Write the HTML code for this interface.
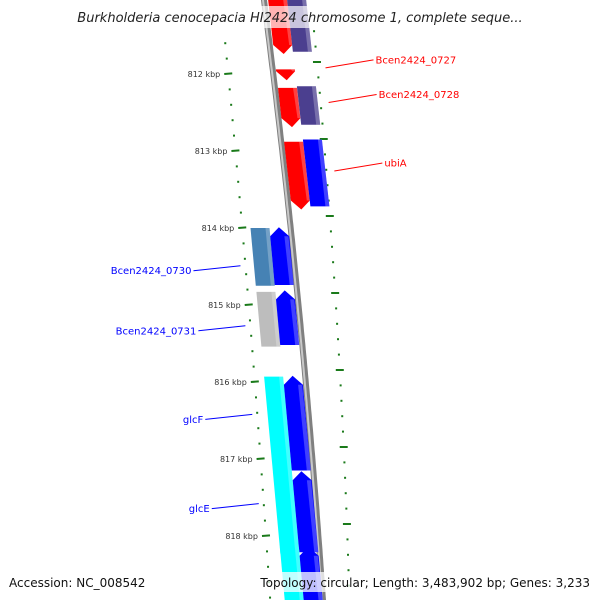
<!DOCTYPE html>
<html><head><meta charset="utf-8"><style>
html,body{margin:0;padding:0;background:#fff;}
svg{display:block;font-family:"DejaVu Sans","Liberation Sans",sans-serif;}
</style></head><body>
<svg id="map" width="600" height="600" viewBox="0 0 600 600" xmlns="http://www.w3.org/2000/svg">
<defs>
<linearGradient id="bb" x1="0" x2="1" y1="0" y2="0"><stop offset="0" stop-color="#777"/><stop offset="0.4" stop-color="#bbb"/><stop offset="1" stop-color="#666"/></linearGradient>
</defs>
<g id="ticks"></g>
<g id="backbone"></g>
<g id="genes"></g>
<g id="labels"></g>
<rect x="62" y="6" width="476" height="22" fill="#fff" fill-opacity="0.7"/>
<text x="300" y="22" text-anchor="middle" font-size="13" font-style="italic" fill="#222">Burkholderia cenocepacia HI2424 chromosome 1, complete seque...</text>
<rect x="0" y="572" width="600" height="20" fill="#fff" fill-opacity="0.75"/>
<text x="9" y="587" font-size="12" fill="#111">Accession: NC_008542</text>
<text x="590" y="587" text-anchor="end" font-size="12" fill="#111">Topology: circular; Length: 3,483,902 bp; Genes: 3,233</text>
</svg>
<script>
// kbp tick labels
const tickKbp = [812,813,814,815,816,817,818];
// genes: [name, start kbp, end kbp, track, column, color, direction]
const geneNames = ["g_top_r","g_top_p","g_small","Bcen2424_0727b","Bcen2424_0728","ubiA_r","ubiA","Bcen2424_0730","b0730","Bcen2424_0731","b0731","glcF","bglcF","glcE","bglcE","next","bnext"];
const geneStart = [811.0,811.0,811.94,812.18,812.16,812.88,812.85,814.0,813.99,814.83,814.81,815.93,815.92,817.17,817.16,818.15,818.14];
const geneEnd   = [811.74,811.71,812.08,812.69,812.66,813.76,813.72,814.75,814.74,815.54,815.52,817.18,817.15,818.23,818.21,819.0,819.0];
const geneTrack = [0,0,0,0,0,0,0,1,1,1,1,1,1,1,1,1,1];
const geneCol   = [0,1,0,0,1,0,1,0,1,0,1,0,1,0,1,0,1];
const geneColor = ["#ff0000","#4b3f8f","#ff0000","#ff0000","#4b3f8f","#ff0000","#0000ff","#4682b4","#0000ff","#bdbdbd","#0000ff","#00ffff","#0000ff","#00ffff","#0000ff","#00ffff","#0000ff"];
const geneDir   = [-1,0,-1,-1,0,-1,0,0,1,0,1,0,1,0,1,0,1];
// labels
const labelText = ["Bcen2424_0727","Bcen2424_0728","ubiA","Bcen2424_0730","Bcen2424_0731","glcF","glcE"];
const labelKbp  = [811.92,812.37,813.26,814.49,815.27,816.42,817.58];
const labelSide = [1,1,1,-1,-1,-1,-1];
const labelColor= ["#ff0000","#ff0000","#ff0000","#0000ff","#0000ff","#0000ff","#0000ff"];

const NS="http://www.w3.org/2000/svg";
function yOf(k){return 74+(k-812)*77;}
function backX(y){return 264+0.1286*y-5.05e-5*y*y;}
function leftTickX(y){return 221+0.1*y-0.00003*y*y+ (y>300?0:0);}
function rightTickX(y){return 311+0.1*y-0.00006*y*y;}
function trackX(t,c,y){
  const base = t===0 ? 277.6+0.113*y : 262+0.092*(y-250);
  return base + c*19;
}
function mk(tag,attrs,parent){const e=document.createElementNS(NS,tag);for(const k in attrs)e.setAttribute(k,attrs[k]);parent.appendChild(e);return e;}

// backbone
const bb=document.getElementById('backbone');
let d="";for(let y=-5;y<=605;y+=5){d+=(y===-5?"M":"L")+backX(y).toFixed(1)+" "+y+" ";}
const bpath=mk('path',{d:d,stroke:'#808080','stroke-width':6,fill:'none'},bb);


const bhl=mk('path',{d:d,stroke:'#c8c8c8','stroke-width':2,fill:'none',transform:'translate(-1,0)'},bb);



// ticks
const tg=document.getElementById('ticks');
for(let k=811.6;k<=819.01;k+=0.2){
  const kk=Math.round(k*10)/10;
  const major=Math.abs(kk-Math.round(kk))<0.01;
  const y=yOf(kk);
  const lx=leftTickX(y);
  const t=mk('line',{x1:lx-(major?4:1),x2:lx+(major?4:1),y1:y,y2:y-(major?0.6:0),stroke:'#1a7a1a','stroke-width':2},tg);
  
  
  const yr=y-12;const rx=rightTickX(yr);
  const t2=mk('line',{x1:rx-(major?4:1),x2:rx+(major?4:1),y1:yr,y2:yr,stroke:'#1a7a1a','stroke-width':2},tg);
  
  
}
tickKbp.forEach(k=>{
  const y=yOf(k);
  const tx=mk('text',{x:leftTickX(y)-8,y:y+3,'text-anchor':'end','font-size':8,fill:'#333'},tg);
  tx.textContent=k+" kbp";
  
  
});

// genes
const gg=document.getElementById('genes');
geneNames.forEach((n,i)=>{
  const y1=yOf(geneStart[i]), y2=yOf(geneEnd[i]);
  const t=geneTrack[i], c=geneCol[i], w=9.5, a=9;
  const L=y=>trackX(t,c,y)-w, R=y=>trackX(t,c,y)+w;
  let pts;
  if(geneDir[i]===-1){
    const ym=y2-a, xm=(L(y2)+R(y2))/2;
    pts=[[L(y1),y1],[R(y1),y1],[R(ym),ym],[xm,y2],[L(ym),ym]];
  } else if(geneDir[i]===1){
    const ym=y1+a, xm=(L(y1)+R(y1))/2;
    pts=[[xm,y1],[R(ym),ym],[R(y2),y2],[L(y2),y2],[L(ym),ym]];
  } else {
    pts=[[L(y1),y1],[R(y1),y1],[R(y2),y2],[L(y2),y2]];
  }
  const p=mk('polygon',{points:pts.map(q=>q[0].toFixed(1)+","+q[1].toFixed(1)).join(" "),fill:geneColor[i]},gg);
  
  
  const sh=mk('polygon',{points:[[R(y1)-4,y1+(geneDir[i]===1?a:0)],[R(y1),y1+(geneDir[i]===1?a:0)],[R(y2),y2-(geneDir[i]===-1?a:0)],[R(y2)-4,y2-(geneDir[i]===-1?a:0)]].map(q=>q[0].toFixed(1)+","+q[1].toFixed(1)).join(" "),fill:'#fff','fill-opacity':0.25},gg);
  
  
});

// labels
const lg=document.getElementById('labels');
labelText.forEach((s,i)=>{
  const y=yOf(labelKbp[i]);
  let x1,x2,tx;
  if(labelSide[i]===1){x1=rightTickX(y)+8;x2=x1+48;tx=x2+2;}
  else{x1=leftTickX(y)-5;x2=x1-47;tx=x2-2;}
  const ln=mk('line',{x1:x1,y1:y,x2:x2,y2:y-(labelSide[i]===1?8:5)*(labelSide[i]),stroke:labelColor[i],'stroke-width':1},lg);
  ln.setAttribute('y2',labelSide[i]===1?y-8:y+5);
  
  
  const t=mk('text',{x:tx,y:(labelSide[i]===1?y-8:y+5)+3.5,'text-anchor':labelSide[i]===1?'start':'end','font-size':10,fill:labelColor[i]},lg);
  t.textContent=s;
  
  
});
</script>
</body></html>
